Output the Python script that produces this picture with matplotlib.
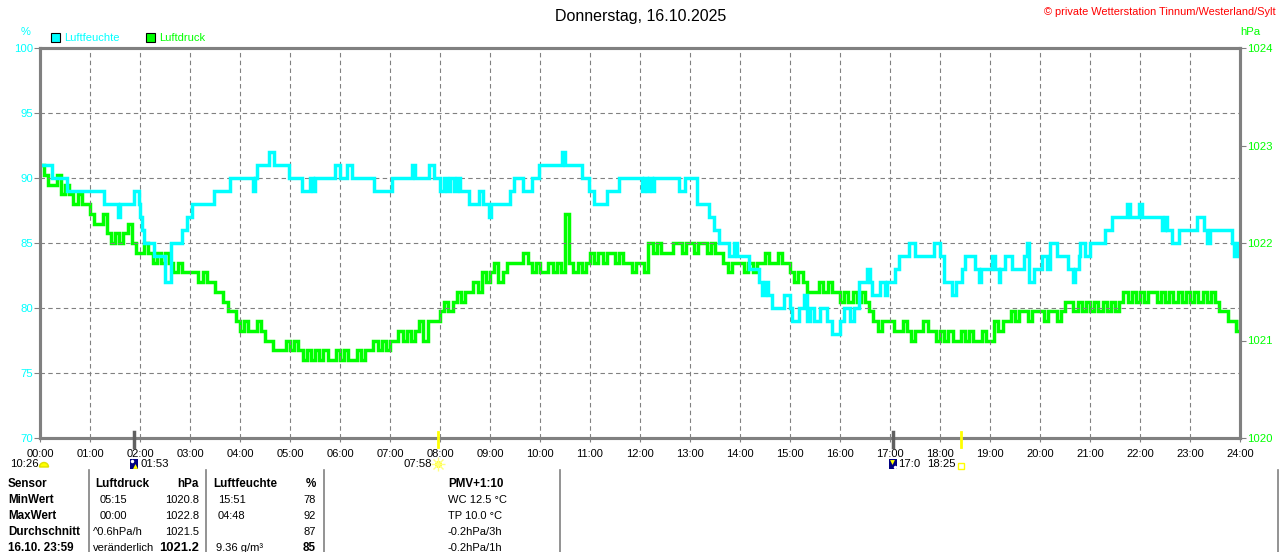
import matplotlib
matplotlib.use("Agg")
import matplotlib.pyplot as plt
import numpy as np
from matplotlib.patches import Rectangle, Wedge

plt.rcParams['font.family'] = ['Liberation Sans', 'DejaVu Sans']

CYAN = '#00FFFF'
GREEN = '#00FF00'
GREY = '#808080'

# x axis
hours = list(range(25))
hour_labels = [f"{h:02d}:00" for h in hours]

# Luftfeuchte (%) as steps: start of step (hours) and value
hum_t = [0.00, 0.23, 0.53, 1.27, 1.55, 1.60, 1.87, 1.97, 2.00, 2.03, 2.07, 2.27,
         2.50, 2.62, 2.83, 2.93, 3.03, 3.47, 3.80, 4.27, 4.30, 4.33, 4.57, 4.67,
         4.97, 5.23, 5.40, 5.45, 5.50, 5.90, 6.00, 6.13, 6.23, 6.67, 7.03, 7.43,
         7.50, 7.77, 7.87, 8.00, 8.07, 8.13, 8.20, 8.27, 8.33, 8.40, 8.57, 8.77,
         8.87, 8.97, 9.03, 9.40, 9.47, 9.65, 9.83, 9.97, 10.43, 10.50, 10.83, 10.97,
         11.07, 11.33, 11.57, 12.03, 12.07, 12.13, 12.17, 12.23, 12.27, 12.77, 12.90, 13.13,
         13.37, 13.47, 13.57, 13.77, 13.87, 13.93, 14.17, 14.37, 14.43, 14.50, 14.55, 14.63,
         14.87, 15.00, 15.03, 15.17, 15.27, 15.33, 15.40, 15.47, 15.60, 15.73, 15.83, 16.00,
         16.07, 16.20, 16.27, 16.37, 16.53, 16.60, 16.63, 16.80, 16.90, 16.93, 17.10, 17.17,
         17.37, 17.50, 17.87, 18.00, 18.07, 18.23, 18.33, 18.43, 18.50, 18.70, 18.77, 18.83,
         19.03, 19.10, 19.17, 19.20, 19.30, 19.43, 19.67, 19.73, 19.77, 19.87, 20.03, 20.13,
         20.20, 20.33, 20.55, 20.65, 20.70, 20.77, 20.80, 20.90, 21.00, 21.30, 21.43, 21.73,
         21.80, 21.97, 22.03, 22.43, 22.50, 22.53, 22.63, 22.77, 23.13, 23.27, 23.33, 23.40,
         23.83, 23.87, 23.93, 24.00]
hum_v = [91, 90, 89, 88, 87, 88, 89, 88, 87, 86, 85, 84,
         82, 85, 86, 87, 88, 89, 90, 89, 90, 91, 92, 91,
         90, 89, 90, 89, 90, 91, 90, 91, 90, 89, 90, 91,
         90, 91, 90, 89, 90, 89, 90, 89, 90, 89, 88, 89,
         88, 87, 88, 89, 90, 89, 90, 91, 92, 91, 90, 89,
         88, 89, 90, 89, 90, 89, 90, 89, 90, 89, 90, 88,
         87, 86, 85, 84, 85, 84, 83, 82, 81, 82, 81, 80,
         81, 80, 79, 80, 81, 79, 80, 79, 80, 79, 78, 79,
         80, 79, 80, 82, 83, 82, 81, 82, 81, 82, 83, 84,
         85, 84, 85, 84, 82, 81, 82, 83, 84, 83, 82, 83,
         84, 83, 82, 83, 84, 83, 84, 85, 82, 83, 84, 83,
         85, 84, 83, 82, 83, 84, 85, 84, 85, 86, 87, 88,
         87, 88, 87, 86, 87, 86, 85, 86, 87, 86, 85, 86,
         85, 84, 85, 85]

# Luftdruck (hPa), 5-minute values, one row per hour
press_rows = [
    [1022.8, 1022.7, 1022.6, 1022.6, 1022.7, 1022.5, 1022.6, 1022.5, 1022.4, 1022.5, 1022.4, 1022.4],
    [1022.3, 1022.2, 1022.2, 1022.3, 1022.1, 1022.0, 1022.1, 1022.0, 1022.1, 1022.2, 1022.0, 1021.9],
    [1021.9, 1022.0, 1021.9, 1021.8, 1021.9, 1021.8, 1021.9, 1021.8, 1021.7, 1021.8, 1021.7, 1021.7],
    [1021.7, 1021.7, 1021.6, 1021.7, 1021.6, 1021.6, 1021.5, 1021.5, 1021.4, 1021.3, 1021.3, 1021.2],
    [1021.1, 1021.2, 1021.1, 1021.1, 1021.2, 1021.1, 1021.0, 1021.0, 1020.9, 1020.9, 1020.9, 1021.0],
    [1020.9, 1021.0, 1020.9, 1020.8, 1020.9, 1020.8, 1020.9, 1020.8, 1020.9, 1020.8, 1020.8, 1020.9],
    [1020.8, 1020.9, 1020.8, 1020.8, 1020.9, 1020.8, 1020.9, 1020.9, 1021.0, 1020.9, 1021.0, 1020.9],
    [1021.0, 1021.0, 1021.1, 1021.0, 1021.1, 1021.0, 1021.1, 1021.2, 1021.0, 1021.2, 1021.2, 1021.2],
    [1021.3, 1021.4, 1021.3, 1021.4, 1021.5, 1021.4, 1021.5, 1021.5, 1021.6, 1021.5, 1021.7, 1021.6],
    [1021.7, 1021.8, 1021.6, 1021.7, 1021.8, 1021.8, 1021.8, 1021.8, 1021.9, 1021.8, 1021.7, 1021.8],
    [1021.7, 1021.7, 1021.8, 1021.7, 1021.8, 1021.7, 1022.3, 1021.8, 1021.7, 1021.8, 1021.7, 1021.8],
    [1021.9, 1021.8, 1021.9, 1021.8, 1021.9, 1021.9, 1021.8, 1021.9, 1021.8, 1021.8, 1021.7, 1021.8],
    [1021.8, 1021.7, 1022.0, 1021.9, 1022.0, 1021.9, 1021.9, 1021.9, 1022.0, 1022.0, 1021.9, 1022.0],
    [1022.0, 1021.9, 1022.0, 1022.0, 1021.9, 1022.0, 1021.9, 1021.9, 1021.8, 1021.7, 1021.8, 1021.8],
    [1021.8, 1021.7, 1021.8, 1021.7, 1021.8, 1021.8, 1021.9, 1021.8, 1021.8, 1021.9, 1021.8, 1021.8],
    [1021.7, 1021.6, 1021.7, 1021.6, 1021.5, 1021.5, 1021.5, 1021.6, 1021.5, 1021.6, 1021.5, 1021.5],
    [1021.4, 1021.5, 1021.4, 1021.5, 1021.4, 1021.5, 1021.4, 1021.3, 1021.2, 1021.1, 1021.2, 1021.2],
    [1021.2, 1021.1, 1021.1, 1021.2, 1021.1, 1021.0, 1021.1, 1021.1, 1021.2, 1021.1, 1021.1, 1021.0],
    [1021.1, 1021.0, 1021.1, 1021.0, 1021.0, 1021.1, 1021.0, 1021.1, 1021.0, 1021.0, 1021.1, 1021.0],
    [1021.0, 1021.2, 1021.1, 1021.2, 1021.2, 1021.3, 1021.2, 1021.3, 1021.3, 1021.2, 1021.3, 1021.3],
    [1021.3, 1021.2, 1021.3, 1021.3, 1021.2, 1021.3, 1021.4, 1021.4, 1021.3, 1021.4, 1021.3, 1021.4],
    [1021.3, 1021.4, 1021.3, 1021.4, 1021.3, 1021.4, 1021.3, 1021.4, 1021.5, 1021.4, 1021.5, 1021.4],
    [1021.5, 1021.4, 1021.5, 1021.5, 1021.4, 1021.5, 1021.4, 1021.5, 1021.4, 1021.5, 1021.4, 1021.5],
    [1021.4, 1021.5, 1021.4, 1021.5, 1021.4, 1021.5, 1021.4, 1021.3, 1021.3, 1021.2, 1021.2, 1021.1],
]
press_last = 1021.2

# sun / moon times (hours)
moon_rise = 1 + 53 / 60
sun_rise = 7 + 58 / 60
moon_set = 17 + 3 / 60
sun_set = 18 + 25 / 60

# table below the chart
table_rows = ["Sensor", "MinWert", "MaxWert", "Durchschnitt", "16.10. 23:59"]
druck_time = ["", "05:15", "00:00", "^0.6hPa/h", "veränderlich"]
druck_val = ["hPa", "1020.8", "1022.8", "1021.5", "1021.2"]
feuchte_time = ["", "15:51", "04:48", "", "9.36 g/m³"]
feuchte_val = ["%", "78", "92", "87", "85"]
extra = ["PMV+1:10", "WC 12.5 °C", "TP 10.0 °C", "-0.2hPa/3h", "-0.2hPa/1h"]

press_v = np.concatenate([np.array(r) for r in press_rows] + [[press_last]])
press_t = np.arange(len(press_v)) / 12.0

W, H = 1280, 552
fig = plt.figure(figsize=(W / 100, H / 100), dpi=100)
ax = fig.add_axes([40 / W, 1 - 438 / H, 1200 / W, 390 / H])
ax2 = ax.twinx()
ax.set_zorder(ax2.get_zorder() + 1)
ax.patch.set_visible(False)

ax2.step(press_t, press_v, where='post', color=GREEN, lw=2.5, solid_joinstyle='miter')
ax.step(hum_t, hum_v, where='post', color=CYAN, lw=2.5, solid_joinstyle='miter')

ax.set_xlim(0, 24)
ax.set_ylim(70, 100)
ax2.set_ylim(1020, 1024)

ax.set_xticks(hours)
ax.set_xticklabels(hour_labels, fontsize=8)
ax.set_yticks(range(70, 101, 5))
ax.set_yticklabels([str(v) for v in range(70, 101, 5)], fontsize=8.2, color=CYAN)
ax2.set_yticks(range(1020, 1025))
ax2.set_yticklabels([str(v) for v in range(1020, 1025)], fontsize=8.2, color=GREEN)
ax.tick_params(axis='x', length=3, color=GREY, pad=5)
ax.tick_params(axis='y', length=4, color=GREY, pad=1)
ax2.tick_params(axis='y', length=4, color=GREY, pad=1)

for h in hours[1:-1]:
    ax.axvline(h, color=GREY, lw=0.8, linestyle=(0, (4, 3)), zorder=0)
for v in range(75, 100, 5):
    ax.axhline(v, color=GREY, lw=0.8, linestyle=(0, (4, 3)), zorder=0)

for a in (ax, ax2):
    for s in a.spines.values():
        s.set_color(GREY)
        s.set_linewidth(2.2)

# sun and moon marks at the bottom axis
for t, c, lw in [(moon_rise, '#606060', 2.5), (moon_set, '#606060', 2.5),
                 (sun_rise, '#FFFF00', 2.0), (sun_set, '#FFFF00', 2.0)]:
    ax.plot([t, t], [-0.022, 0.016], transform=ax.get_xaxis_transform(),
            color=c, lw=lw, clip_on=False, zorder=5)

# overlay in pixel coordinates for the texts around the chart
ov = fig.add_axes([0, 0, 1, 1], zorder=20)
ov.set_xlim(0, W)
ov.set_ylim(H, 0)
ov.axis('off')
ov.patch.set_alpha(0)


def xpix(t):
    return ax.transData.transform((t, 70))[0]


ov.text(641, 16, "Donnerstag, 16.10.2025", ha='center', va='center', fontsize=11.5)
ov.text(1276, 12, "© private Wetterstation Tinnum/Westerland/Sylt", ha='right', va='center',
        fontsize=7.9, color='red')
ov.text(26, 32, "%", ha='center', va='center', fontsize=8, color=CYAN)
ov.text(1240, 32, "hPa", ha='left', va='center', fontsize=8.2, color=GREEN)

# legend
ov.add_patch(Rectangle((51, 33), 9, 9, facecolor=CYAN, edgecolor='black', lw=0.8))
ov.text(64, 38, "Luftfeuchte", ha='left', va='center', fontsize=8, color=CYAN)
ov.add_patch(Rectangle((146, 33), 9, 9, facecolor=GREEN, edgecolor='black', lw=0.8))
ov.text(159, 38, "Luftdruck", ha='left', va='center', fontsize=8, color=GREEN)

# moon phase / rise / set and sun rise / set labels
ev_y = 464
ov.text(10, ev_y, "10:26", ha='left', va='center', fontsize=8.2)
ov.add_patch(Wedge((44, ev_y + 3), 4.5, 180, 360, facecolor='#FFFF00', edgecolor='#E0E000'))

xr = xpix(moon_rise)
ov.add_patch(Rectangle((xr - 4, ev_y - 5), 8, 10, facecolor='#000080', edgecolor='none'))
ov.plot(xr + 1, ev_y + 2, marker='^', ms=3.5, color='#FFFF00', mec='none')
ov.plot(xr - 2, ev_y - 3, marker='o', ms=2.5, color='white', mec='none')
ov.text(xr + 6, ev_y, "01:53", ha='left', va='center', fontsize=8.2)

xs = xpix(sun_rise)
ov.plot(xs, ev_y, marker='o', ms=5, color='#FFFF00', mec='none')
ov.plot(xs, ev_y, marker='+', ms=10, color='#FFFF80', mew=1)
ov.plot(xs, ev_y, marker='x', ms=7, color='#FFFF80', mew=1)
ov.text(xs - 6, ev_y, "07:58", ha='right', va='center', fontsize=8.2)

xm = xpix(moon_set)
ov.add_patch(Rectangle((xm - 4, ev_y - 5), 8, 10, facecolor='#000080', edgecolor='none'))
ov.plot(xm - 1, ev_y - 2, marker='v', ms=3.5, color='#FFFF00', mec='none')
ov.plot(xm + 2, ev_y + 3, marker='o', ms=2.5, color='white', mec='none')
ov.text(xm + 6, ev_y, "17:0", ha='left', va='center', fontsize=8.2)

xe = xpix(sun_set)
ov.add_patch(Rectangle((xe - 3, ev_y - 1), 6, 6, fill=False, edgecolor='#FFFF00', lw=1))
ov.text(xe - 5, ev_y, "18:25", ha='right', va='center', fontsize=8.2)

# table
for xl in (89, 206, 324, 560):
    ov.plot([xl, xl], [470, H], color=GREY, lw=1.2)
ov.plot([1278, 1278], [470, H], color=GREY, lw=1.2)

row_y = [484, 500, 516, 532, 548]
fs = 8.0
fsb = 8.4
for i, y in enumerate(row_y):
    ov.text(8, y, table_rows[i], ha='left', va='center', fontsize=fsb, fontweight='bold')
    if i == 0:
        ov.text(95, y, "Luftdruck", ha='left', va='center', fontsize=fsb, fontweight='bold')
        ov.text(213, y, "Luftfeuchte", ha='left', va='center', fontsize=fsb, fontweight='bold')
    else:
        xt = 93 if i >= 3 else 100
        ov.text(xt, y, druck_time[i], ha='left', va='center', fontsize=fs)
        xt = 216 if i >= 3 else 218
        ov.text(xt, y, feuchte_time[i], ha='left', va='center', fontsize=fs)
    bold_val = i in (0, 4)
    ov.text(199, y, druck_val[i], ha='right', va='center',
            fontsize=(fsb + 1 if i == 4 else fsb) if bold_val else fs,
            fontweight='bold' if bold_val else 'normal')
    ov.text(316, y, feuchte_val[i], ha='right', va='center', fontsize=fsb if bold_val else fs,
            fontweight='bold' if bold_val else 'normal')
    ov.text(448, y, extra[i], ha='left', va='center', fontsize=fsb if i == 0 else fs,
            fontweight='bold' if i == 0 else 'normal')

fig.savefig("out.png", dpi=100)
